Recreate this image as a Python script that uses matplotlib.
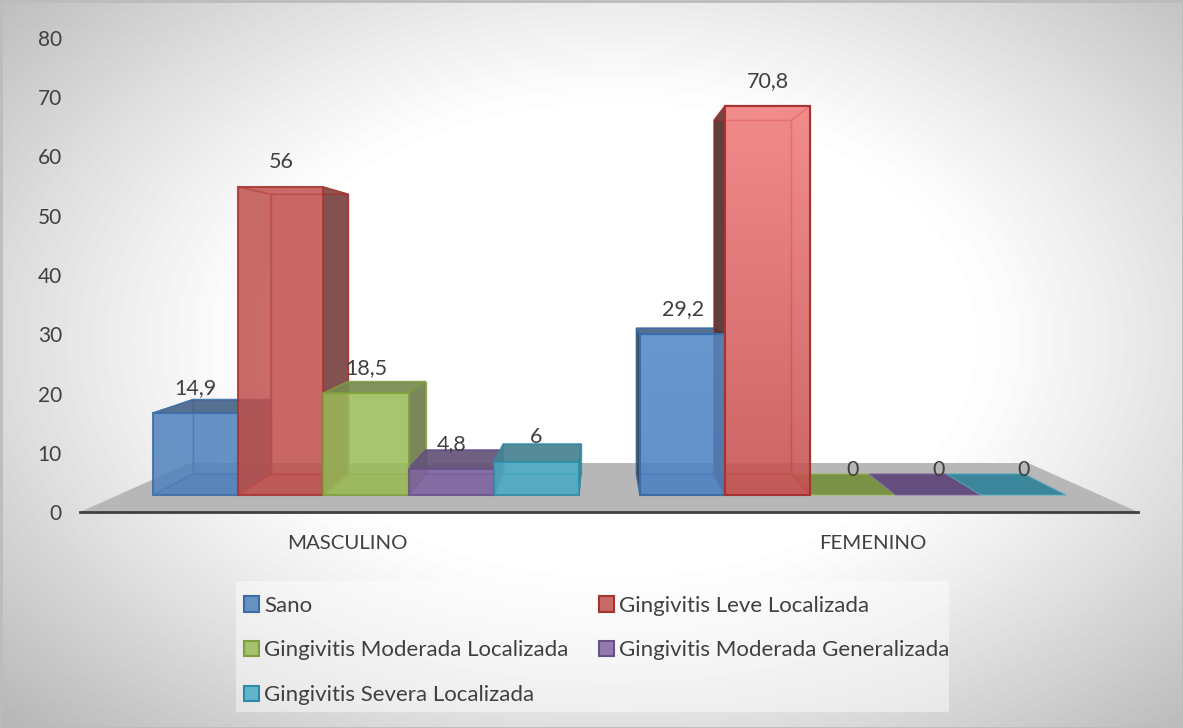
import matplotlib
matplotlib.use("Agg")
import matplotlib.pyplot as plt
from matplotlib.colors import to_rgba, LinearSegmentedColormap
from matplotlib.patches import Polygon, Patch, Rectangle
import numpy as np

plt.rcParams["font.family"] = ["Lato", "DejaVu Sans"]

## -----------------------------------------------------------------------------
# Data
categories = ["MASCULINO", "FEMENINO"]
series_names = ["Sano", "Gingivitis Leve Localizada", "Gingivitis Moderada Localizada",
                "Gingivitis Moderada Generalizada", "Gingivitis Severa Localizada"]
masculino = [14.9, 56, 18.5, 4.8, 6]
femenino = [29.2, 70.8, 0, 0, 0]
labels_masculino = ["14,9", "56", "18,5", "4,8", "6"]
labels_femenino = ["29,2", "70,8", "0", "0", "0"]
y_ticks = [0, 10, 20, 30, 40, 50, 60, 70, 80]

face_colors = ["#4f81bd", "#c0504d", "#9bbb59", "#8064a2", "#4bacc6"]
edge_colors = ["#3a6ca8", "#a5332f", "#7f9e3c", "#67508c", "#2e8ba5"]
text_color = "#404040"

## -----------------------------------------------------------------------------
# Fake 3d look: front face shrinks towards a vanishing point for the back face
px_x = 529.0              # pixels per x unit
px_y = 474.0 / 80         # pixels per y unit
bar_w = 85.2 / px_x
floor_y = 17 / px_y       # front of the bars sits above the axis line
val_scale = 5.5 / px_y
vx, vy = (600 - 80) / px_x, (512 - 266) / px_y
sx, sy = 0.91, 0.908
group_start = [(153 - 80) / px_x, (640 - 80) / px_x]
z_back, z_front = 3, 10


def back(x, y):
    return (vx + (x - vx) * sx, vy + (y - vy) * sy)


def darker(col, k, mix=0.0):
    r, g, b, _ = to_rgba(col)
    m = (r + g + b) / 3
    return tuple(k * (c * (1 - mix) + m * mix) for c in (r, g, b))


def poly(ax, pts, face, alpha, edge, lw, z):
    ax.add_patch(Polygon(pts, closed=True, facecolor=to_rgba(face, alpha),
                         edgecolor=to_rgba(edge, 0.75), linewidth=lw, zorder=z))


def draw_bar(ax, x0, value, face, edge, gradient=None):
    x1 = x0 + bar_w
    y0 = floor_y
    y1 = floor_y + value * val_scale
    fl, fr = (x0, y0), (x1, y0)
    tl, tr = (x0, y1), (x1, y1)
    bl, br = back(x0, y0), back(x1, y0)
    btl, btr = back(x0, y1), back(x1, y1)
    if value == 0:
        poly(ax, [fl, fr, br, bl], darker(face, 0.78), 1.0, face, 0.8, z_back - 1)
        return
    poly(ax, [bl, br, btr, btl], face, 0.25, edge, 1.0, z_back)
    poly(ax, [fl, fr, br, bl], darker(face, 0.9), 0.4, edge, 1.0, z_back)
    # a face that folds inwards stays pale, only the outer one is dark
    if bl[0] < x0:
        poly(ax, [fl, bl, btl, tl], darker(face, 0.5, 0.45), 0.9, edge, 1.0, z_back)
    else:
        poly(ax, [fl, bl, btl, tl], face, 0.15, edge, 1.0, z_back)
    if br[0] > x1:
        poly(ax, [fr, br, btr, tr], darker(face, 0.72, 0.35), 0.9, edge, 1.0, z_back)
    else:
        poly(ax, [fr, br, btr, tr], face, 0.15, edge, 1.0, z_back)
    if btl[1] > y1:
        poly(ax, [tl, tr, btr, btl], darker(face, 0.78, 0.25), 0.9, edge, 1.2, z_back)
    else:
        poly(ax, [tl, tr, btr, btl], face, 0.15, edge, 1.0, z_back)
    if gradient is not None:
        cm = LinearSegmentedColormap.from_list("g", gradient)
        ax.imshow(np.linspace(1, 0, 64).reshape(-1, 1), cmap=cm, aspect="auto",
                  extent=(x0, x1, y0, y1), zorder=z_front, vmin=0, vmax=1)
        ax.add_patch(Rectangle((x0, y0), bar_w, y1 - y0, facecolor="none", edgecolor=edge,
                               linewidth=1.5, zorder=z_front))
    else:
        poly(ax, [fl, fr, tr, tl], face, 0.82, edge, 1.5, z_front)


## -----------------------------------------------------------------------------
# plot
fig = plt.figure(figsize=(11.83, 7.28), dpi=100)

# background glow
bg = fig.add_axes([0, 0, 1, 1], zorder=0)
xx, yy = np.meshgrid(np.arange(1183), np.arange(728))
r = np.sqrt(((xx - 615) / 610.0) ** 2 + ((yy - 340) / 400.0) ** 2)
d = np.clip(r - 0.55, 0, None)
shade = 1 - 0.4 * d ** 2 / (d + 0.15)
bg.imshow(shade, cmap="gray", vmin=0, vmax=1, aspect="auto")
bg.axis("off")
bg.add_patch(Rectangle((0.5, 0.5), 1182, 727, facecolor="none", edgecolor="#bcbcbc", linewidth=2))
bg.add_patch(Rectangle((236, 581), 713, 131, facecolor="white", edgecolor="none", alpha=0.45))

ax = fig.add_axes([80 / 1183, (728 - 512) / 728, 1058 / 1183, 474 / 728], zorder=1)
ax.patch.set_alpha(0)

# floor
ax.add_patch(Polygon([(0, 0), (2, 0), ((1028 - 80) / px_x, 49 / px_y), ((190 - 80) / px_x, 49 / px_y)],
                     closed=True, facecolor="#b7b7b7", edgecolor="none", zorder=1))

groups = [masculino, femenino]
group_labels = [labels_masculino, labels_femenino]
for g in range(2):
    for i in range(len(series_names)):
        x0 = group_start[g] + i * bar_w
        grad = None
        if g == 1 and i == 1:
            grad = [(0.776, 0.318, 0.318, 0.85), (0.95, 0.49, 0.49, 0.85)]
        if g == 1 and i == 0:
            grad = [(0.31, 0.51, 0.76, 0.85), (0.34, 0.54, 0.79, 0.85)]
        draw_bar(ax, x0, groups[g][i], face_colors[i], edge_colors[i], grad)
        ax.text(x0 + bar_w / 2, floor_y + groups[g][i] * val_scale + 25 / px_y, group_labels[g][i],
                ha="center", va="center", fontsize=15.5, color=text_color, zorder=20)

ax.set_xlim(0, 2)
ax.set_ylim(0, 80)
ax.set_yticks(y_ticks)
ax.set_xticks([0.505, 1.498])
ax.set_xticklabels(categories)
ax.tick_params(axis="y", length=0, pad=13, labelsize=15, labelcolor=text_color)
ax.tick_params(axis="x", length=0, pad=16.5, labelsize=14.7, labelcolor=text_color)
for s in ["top", "right", "left"]:
    ax.spines[s].set_visible(False)
ax.spines["bottom"].set_color("#404040")
ax.spines["bottom"].set_linewidth(2)
ax.spines["bottom"].set_zorder(15)

# legend fills by column, the original reads by row
order = [0, 2, 4, 1, 3]
handles = [Patch(facecolor=to_rgba(face_colors[i], 0.85), edgecolor=edge_colors[i], linewidth=1.5,
                 label=series_names[i]) for i in order]
leg = fig.legend(handles=handles, ncol=2, loc="lower left",
                 bbox_to_anchor=(244 / 1183, (728 - 705) / 728, 705 / 1183, 109 / 728),
                 mode="expand", fontsize=16, labelcolor=text_color, frameon=False, borderpad=0,
                 borderaxespad=0, labelspacing=1.11, handlelength=0.68, handleheight=0.68,
                 handletextpad=0.22, columnspacing=0.8)
leg.set_zorder(5)

plt.savefig("out.png", dpi=100)
